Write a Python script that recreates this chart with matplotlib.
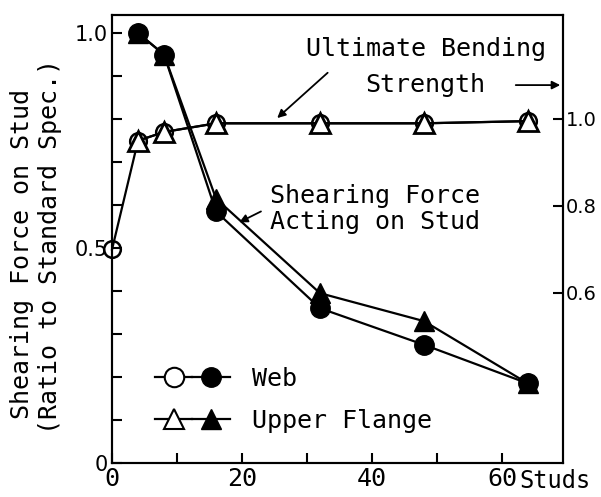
import matplotlib
matplotlib.use('Agg')
import matplotlib.pyplot as plt
from matplotlib.lines import Line2D
from matplotlib.legend_handler import HandlerTuple
from matplotlib.ticker import MultipleLocator

plt.rcParams['font.family'] = ['DejaVu Sans Mono', 'DejaVu Sans']

# number of studs
studs = [0, 4, 8, 16, 32, 48, 64]
flange_studs = [4, 8, 16, 32, 48, 64]

# ultimate bending strength (right axis)
web_bending = [0.70, 0.95, 0.97, 0.99, 0.99, 0.99, 0.995]
flange_bending = [0.95, 0.97, 0.99, 0.99, 0.99, 0.995]

# shearing force acting on stud (left axis)
web_shear = [1.0, 0.95, 0.585, 0.36, 0.275, 0.185]
flange_shear = [1.0, 0.95, 0.615, 0.395, 0.33, 0.185]

x_ticks = [0, 20, 40, 60]
left_ticks = [0, 0.5, 1.0]
left_labels = ['0', '0.5', '1.0']
right_ticks = [0.6, 0.8, 1.0]
right_labels = ['0.6', '0.8', '1.0']

FS = 18
lw = 1.6
ms = 14

fig = plt.figure(figsize=(6.01, 4.97), dpi=100)
ax = fig.add_axes([0.1864, 0.0684, 0.7504, 0.9014])
ax2 = ax.twinx()

ax.set_xlim(0, 69.4)
ax.set_ylim(0, 1.042)
ax2.set_ylim(0.209, 1.239)

# bending strength curves (right axis)
ax2.plot(studs, web_bending, '-', color='black', lw=lw, marker='o', ms=12,
         mfc='none', mec='black', mew=1.8, zorder=3, clip_on=False)
ax2.plot(flange_studs, flange_bending, '-', color='black', lw=lw, marker='^', ms=14,
         mfc='white', mec='black', mew=2, zorder=4, clip_on=False)

# shearing force curves (left axis)
ax.plot(flange_studs, flange_shear, '-', color='black', lw=lw, marker='^', ms=15,
        mfc='black', mec='black', zorder=3)
ax.plot(flange_studs, web_shear, '-', color='black', lw=lw, marker='o', ms=ms,
        mfc='black', mec='black', zorder=4)

# axes styling
for a in (ax, ax2):
    for s in a.spines.values():
        s.set_linewidth(1.5)
ax.set_xticks(x_ticks)
ax.xaxis.set_minor_locator(MultipleLocator(10))
ax.set_yticks(left_ticks)
ax.set_yticklabels(left_labels)
ax.yaxis.set_minor_locator(MultipleLocator(0.1))
ax.tick_params(which='both', direction='in', length=7, width=1.5, top=False)
ax.tick_params(axis='x', labelsize=FS, pad=3)
ax.tick_params(axis='y', labelsize=15, pad=3)
for t in ax.get_yticklabels():
    t.set_family('DejaVu Sans')
ax2.set_yticks(right_ticks)
ax2.set_yticklabels(right_labels, family='DejaVu Sans')
ax2.tick_params(direction='in', length=7, width=1.5, labelsize=14, pad=2)

# annotations
arrow = dict(arrowstyle='-|>', color='black', lw=1.3, mutation_scale=12)
ax.text(48.3, 0.962, 'Ultimate Bending', fontsize=FS, ha='center', va='center')
ax.text(48.2, 0.880, 'Strength', fontsize=FS, ha='center', va='center')
ax.annotate('', xy=(25.1, 0.798), xytext=(33.5, 0.912), arrowprops=arrow)
ax.annotate('', xy=(69.4, 0.879), xytext=(61.7, 0.879), arrowprops=arrow,
            annotation_clip=False)

ax.text(24.3, 0.622, 'Shearing Force', fontsize=FS, ha='left', va='center')
ax.text(24.3, 0.560, 'Acting on Stud', fontsize=FS, ha='left', va='center')
ax.annotate('', xy=(19.2, 0.557), xytext=(23.3, 0.588), arrowprops=arrow)

# axis labels
fig.text(22 / 601, 1 - 254 / 497, 'Shearing Force on Stud', fontsize=FS,
         rotation=90, ha='center', va='center')
fig.text(50 / 601, 1 - 246 / 497, '(Ratio to Standard Spec.)', fontsize=FS,
         rotation=90, ha='center', va='center')
fig.text(555 / 601, 4 / 497, 'Studs', fontsize=17, ha='center', va='bottom')

# legend
web_h = (Line2D([], [], color='black', lw=lw, marker='o', ms=ms, mfc='white', mec='black', mew=1.5),
         Line2D([], [], color='black', lw=lw, marker='o', ms=ms, mfc='black', mec='black'))
fl_h = (Line2D([], [], color='black', lw=lw, marker='^', ms=ms, mfc='white', mec='black', mew=1.5),
        Line2D([], [], color='black', lw=lw, marker='^', ms=ms, mfc='black', mec='black'))
ax2.legend([web_h, fl_h], ['Web', 'Upper Flange'], loc='center left',
           bbox_to_anchor=(0.095, 0.141), frameon=False, fontsize=FS,
           borderpad=0, borderaxespad=0, handlelength=3.0, handletextpad=0.9,
           labelspacing=0.7,
           handler_map={tuple: HandlerTuple(ndivide=None, pad=0)})

fig.savefig('out.png', dpi=100)
